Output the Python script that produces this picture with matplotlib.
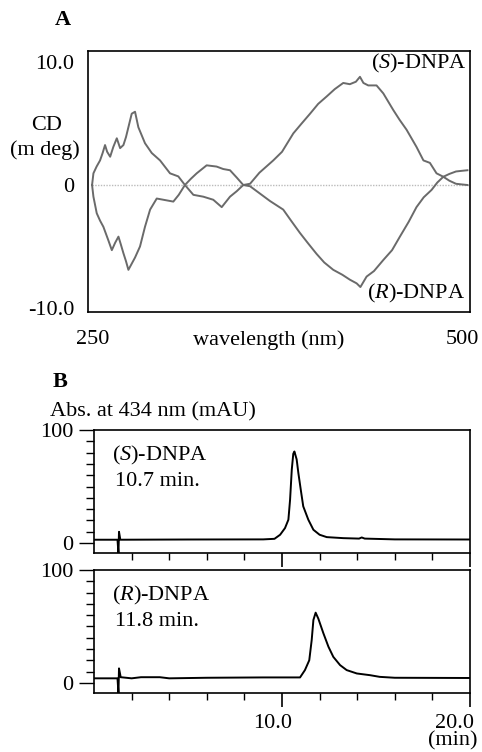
import matplotlib
matplotlib.use("Agg")
import matplotlib.pyplot as plt
from matplotlib.transforms import ScaledTranslation

plt.rcParams['font.family'] = ['Liberation Serif', 'DejaVu Serif']
plt.rcParams['mathtext.fontset'] = 'custom'
plt.rcParams['mathtext.it'] = 'Liberation Serif:italic'
plt.rcParams['mathtext.rm'] = 'Liberation Serif'

# ---------------- Panel A data: CD spectra ----------------
wl_S = [250, 250.9, 253, 255.3, 257, 258.6, 260, 262, 264.1, 266.4, 268.6, 270.8, 272.5,
        274.1, 276.3, 278.5, 280.7, 285.1, 289.6, 295.1, 301.7, 307.2, 311.6, 317.2, 323.8,
        330.4, 336, 341.5, 346, 350.3, 354.8, 361, 370.2, 376, 383.5, 389, 394.6, 400,
        405.6, 411, 416.6, 421, 425, 427.7, 430, 433.2, 438.7, 443.2, 449.8, 454, 458.6,
        465.2, 469.8, 474.1, 478.5, 483, 487, 491.4, 495, 499]
cd_S = [0.0, 0.95, 1.5, 2.0, 2.6, 3.25, 2.7, 2.3, 3.1, 3.8, 3.0, 3.25, 3.9,
        4.7, 5.8, 5.96, 4.7, 3.4, 2.6, 2.0, 0.95, 0.7, 0.0, -0.8, -0.95,
        -1.2, -1.8, -0.95, -0.5, 0.0, 0.1, 1.0, 2.0, 2.7, 4.2, 5.0, 5.8, 6.6,
        7.2, 7.8, 8.3, 8.2, 8.4, 8.8, 8.3, 8.1, 8.1, 7.45, 6.1, 5.3, 4.5,
        3.1, 2.0, 1.8, 0.95, 0.67, 0.35, 0.1, 0.05, 0.0]

wl_R = [250, 250.9, 253.1, 255.3, 257.5, 259, 260.8, 263.1, 265.3, 267.5, 269, 270.8,
        272.5, 274.1, 276.3, 278.5, 281.8, 285.1, 288.5, 292.9, 297.3, 303.9, 307.5,
        311.6, 315.5, 319.4, 326, 332.6, 337, 341.5, 346, 350.3, 354.8, 361.4, 368,
        376.8, 382, 387.9, 393, 398.9, 404, 410, 416, 421, 425.5, 428, 432.1, 437,
        443.2, 449, 454.2, 460, 465.2, 470, 475.2, 479, 483, 487, 491.4, 495, 499]
cd_R = [0.0, -0.95, -2.3, -2.9, -3.4, -3.9, -4.5, -5.3, -4.7, -4.2, -4.8, -5.55,
        -6.2, -6.9, -6.4, -5.9, -5.0, -3.4, -2.0, -1.1, -1.2, -1.35, -0.8,
        0.0, 0.5, 0.95, 1.6, 1.5, 1.3, 1.2, 0.6, 0.0, -0.1, -0.7, -1.3,
        -2.0, -2.9, -3.9, -4.7, -5.6, -6.3, -6.9, -7.3, -7.7, -8.0, -8.3, -7.45, -7.0,
        -6.1, -5.3, -4.2, -3.0, -1.8, -1.0, -0.4, 0.2, 0.67, 0.9, 1.1, 1.15, 1.2]

# ---------------- Panel B data: chromatograms ----------------
t_S = [0, 1.25, 1.3, 1.33, 1.4, 5, 9.0, 9.6, 9.9, 10.16, 10.34, 10.43, 10.52, 10.6,
       10.66, 10.78, 10.87, 11.0, 11.13, 11.4, 11.67, 12.0, 12.38, 13.26, 14.1, 14.24,
       14.4, 16, 20]
abs_S = [3, 3, -9, 10, 3, 3.2, 3.3, 3.8, 7.4, 13.3, 20.7, 38.5, 65, 79,
         81, 74, 62, 47, 32.5, 20.7, 11.8, 7.4, 5.3, 4.4, 4.0, 5.0,
         4.0, 3.3, 3.2]

t_R = [0, 1.25, 1.3, 1.33, 1.42, 2.0, 2.5, 3.5, 4.0, 6.0, 9.0, 10.96, 11.22, 11.45,
       11.58, 11.67, 11.79, 11.93, 12.2, 12.47, 12.73, 13.09, 13.44, 13.98, 14.68,
       15.2, 16, 20]
abs_R = [4, 4, -9, 12.8, 5, 4, 5, 5, 4, 4.5, 4.8, 4.8, 11.3, 20,
         38, 55.7, 62.2, 57, 44, 32, 23, 15.7, 11.3, 8.3, 6.8,
         5.3, 4.5, 4.3]

FS = 16
fig = plt.figure(figsize=(4.82, 7.52), dpi=100)
W, H = 482.0, 752.0

def fx(px):
    return px / W

def fy(py):
    return 1 - py / H

# ---------- Panel A ----------
axA = fig.add_axes([fx(88), fy(312), fx(470) - fx(88), fy(51) - fy(312)])
axA.plot([250, 500], [0, 0], color='#bbbbbb', lw=1.0, ls=(0, (1, 1)))
axA.plot(wl_S, cd_S, color='#6a6a6a', lw=1.4)
axA.plot(wl_R, cd_R, color='#6a6a6a', lw=1.4)
axA.set_xlim(247.3, 500.7)
axA.set_ylim(-10.33, 10.9)
axA.set_xticks([])
axA.set_yticks([10, 0, -10])
axA.set_yticklabels(['10.0', '0', '-10.0'])
axA.tick_params(axis='y', length=0, pad=10, labelsize=FS)
for s in axA.spines.values():
    s.set_linewidth(1.2)
axA.text((467 - 88) / (470 - 88), (312 - 63) / (312 - 51), '($S$)-DNPA', ha='right',
         va='center', fontsize=FS, transform=axA.transAxes)
axA.text((465 - 88) / (470 - 88), (312 - 293) / (312 - 51), '($R$)-DNPA', ha='right',
         va='center', fontsize=FS, transform=axA.transAxes)

fig.text(fx(63), fy(20), 'A', ha='center', va='center', fontsize=FS, fontweight='bold')
fig.text(fx(47), fy(126), 'CD', ha='center', va='center', fontsize=FS)
fig.text(fx(45), fy(150), '(m deg)', ha='center', va='center', fontsize=FS)
fig.text(fx(93), fy(340), '250', ha='center', va='center', fontsize=FS)
fig.text(fx(269), fy(340), 'wavelength (nm)', ha='center', va='center', fontsize=FS)
fig.text(fx(462), fy(340), '500', ha='center', va='center', fontsize=FS)

# ---------- Panel B ----------
fig.text(fx(60), fy(382), 'B', ha='center', va='center', fontsize=FS, fontweight='bold')
fig.text(fx(50), fy(412), 'Abs. at 434 nm (mAU)', ha='left', va='center', fontsize=FS)

def chrom_axes(top, bottom, t, a, name, rt, show_labels):
    ax = fig.add_axes([fx(94), fy(bottom), fx(470) - fx(94), fy(top) - fy(bottom)])
    ax.plot(t, a, color='black', lw=1.4)
    ax.set_xlim(0, 20)
    ax.set_ylim(-9, 100)
    ax.set_yticks([0, 100])
    ax.set_yticklabels(['0', '100'])
    ax.set_yticks(list(range(10, 100, 10)), minor=True)
    ax.tick_params(axis='y', which='major', direction='out', length=11, width=1.0,
                   pad=4, labelsize=FS)
    ax.tick_params(axis='y', which='minor', direction='out', length=6, width=1.0)
    ax.set_xticks([10, 20])
    ax.set_xticks([2, 4, 6, 8, 12, 14, 16, 18], minor=True)
    ax.tick_params(axis='x', which='major', direction='out', length=10, width=1.2,
                   pad=5, labelsize=FS)
    ax.tick_params(axis='x', which='minor', direction='out', length=5, width=1.0)
    if show_labels:
        ax.set_xticklabels(['10.0', '20.0'])
        offs = [-9, -16]
        for lab, o in zip(ax.get_xticklabels(), offs):
            lab.set_transform(lab.get_transform() + ScaledTranslation(o / 100, 0, fig.dpi_scale_trans))
    else:
        ax.set_xticklabels([])
    for s in ax.spines.values():
        s.set_linewidth(1.2)
    ax.text(0.048, 0.79, name, transform=ax.transAxes, ha='left', va='center', fontsize=FS)
    ax.text(0.056, 0.585, rt, transform=ax.transAxes, ha='left', va='center', fontsize=FS)
    return ax

ax1 = chrom_axes(430, 553.3, t_S, abs_S, '($S$)-DNPA', '10.7 min.', False)
ax2 = chrom_axes(570, 693, t_R, abs_R, '($R$)-DNPA', '11.8 min.', True)
fig.text(fx(453), fy(741), '(min)', ha='center', va='center', fontsize=FS)

fig.savefig('out.png', dpi=100)
